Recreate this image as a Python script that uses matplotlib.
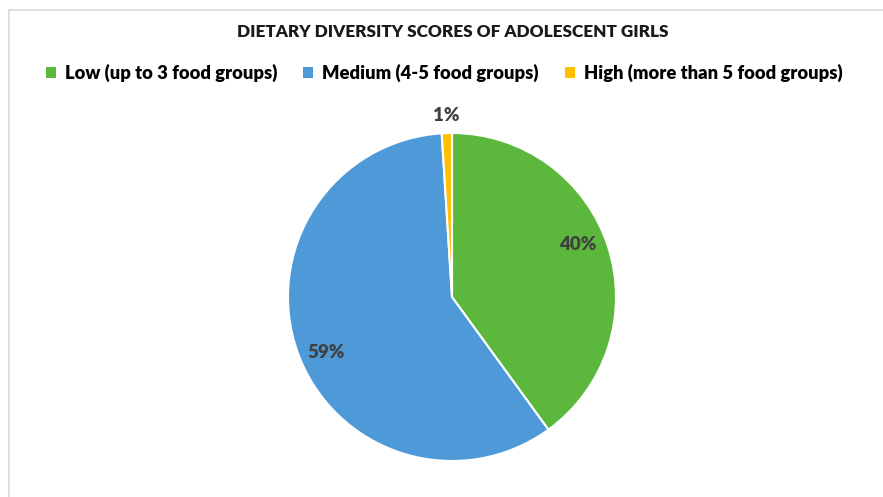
import numpy as np
import matplotlib
matplotlib.use("Agg")
from matplotlib import pyplot as plt
from matplotlib.patches import Patch, Rectangle

# data
categories = ["Low (up to 3 food groups)", "Medium (4-5 food groups)", "High (more than 5 food groups)"]
shares = [40, 59, 1]
colors = ["#5cb83c", "#4e9ad9", "#ffc000"]
label_dist = [0.83, 0.84, 1.11]
label_shift = [4.5, 4.0, 0.0]   # degrees, Excel "best fit" nudge

plt.rcParams['font.family'] = ['Lato', 'DejaVu Sans']

fig = plt.figure(figsize=(8.83, 4.97), dpi=100)

# light frame of the chart area (top and left visible)
fig.add_artist(Rectangle((9 / 883, -0.2), 1.5, 1.2 - 10 / 497,
                         transform=fig.transFigure, fill=False,
                         edgecolor="#d9d9d9", linewidth=1.2))

ax = fig.add_axes([(452 - 164) / 883, 36 / 497, 328 / 883, 328 / 497])
wedges, _ = ax.pie(shares, colors=colors, startangle=90, counterclock=False,
                   wedgeprops=dict(edgecolor="white", linewidth=1.5))
ax.set_xlim(-1, 1)
ax.set_ylim(-1, 1)
ax.set_aspect("equal")
ax.axis("off")

# percentage labels near each wedge's mid angle
for w, v, d, s in zip(wedges, shares, label_dist, label_shift):
    ang = np.deg2rad((w.theta1 + w.theta2) / 2 + s)
    ax.text(d * np.cos(ang), d * np.sin(ang), f"{v}%", ha="center", va="center",
            fontsize=13.5, fontweight="heavy", color="#404040", clip_on=False)

fig.text(0.513, 1 - 32 / 497, "DIETARY DIVERSITY SCORES OF ADOLESCENT GIRLS",
         ha="center", va="center", fontsize=12.3, fontweight="heavy", color="#1a1a1a")

handles = [Patch(facecolor=c, edgecolor="none") for c in colors]
fig.legend(handles, categories, loc="center", bbox_to_anchor=(0.503, 1 - 73 / 497),
           ncol=3, frameon=False, handlelength=0.55, handleheight=0.55,
           handletextpad=0.5, columnspacing=1.4,
           prop=dict(size=13.2, weight="heavy"))

fig.savefig("out.png", dpi=100)
